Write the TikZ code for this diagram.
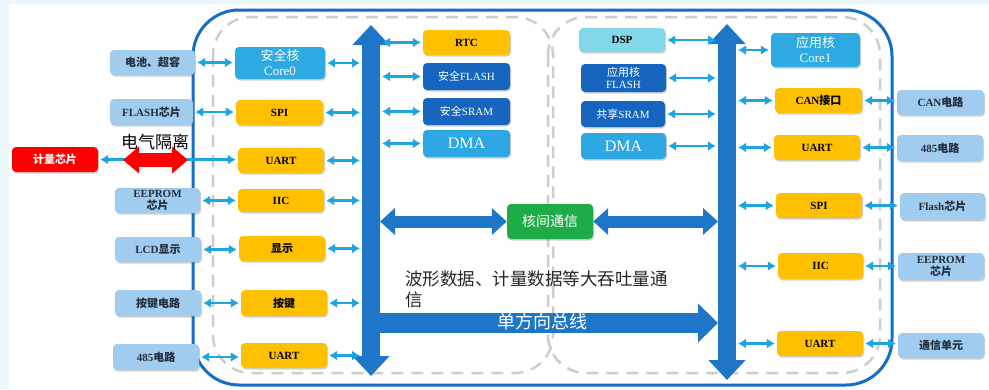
\documentclass[tikz,border=0pt]{standalone}
\usepackage{fontspec}
\setmainfont{Liberation Serif}
\newfontfamily\cjk{Noto Sans CJK SC}
\usetikzlibrary{arrows.meta,shadows}
\newcommand\zh[1]{{\cjk #1}}
\definecolor{bgc}{RGB}{236,246,253}
\definecolor{extc}{RGB}{160,204,240}
\definecolor{exttext}{RGB}{35,45,60}
\definecolor{orgc}{RGB}{255,192,0}
\definecolor{corec}{RGB}{45,170,226}
\definecolor{dkc}{RGB}{22,102,192}
\definecolor{dmac}{RGB}{45,168,228}
\definecolor{dspc}{RGB}{130,216,232}
\definecolor{grnc}{RGB}{30,172,72}
\definecolor{busc}{RGB}{30,118,200}
\definecolor{arrc}{RGB}{30,165,225}
\definecolor{bordc}{RGB}{20,110,200}
\definecolor{dashc}{RGB}{205,205,205}
\newcommand\putbox[7]{\node[#2, minimum width=#5pt-#3pt, minimum height=#6pt-#4pt] (#1) at ({(#3+#5)/2},{(#4+#6)/2}) {#7};}
\begin{document}
\begin{tikzpicture}[x=1pt,y=-1pt,
  boxbase/.style={rounded corners=4pt, inner sep=0pt, align=center,
    drop shadow={shadow xshift=1pt,shadow yshift=-1.5pt,opacity=0.3,fill=black!60}},
  ext/.style={boxbase, fill=extc, text=exttext, font=\bfseries\fontsize{11}{11.5}\selectfont},
  org/.style={boxbase, fill=orgc, text=black, font=\bfseries\fontsize{11}{12}\selectfont},
  core/.style={boxbase, fill=corec, text=white, font=\fontsize{13}{15}\selectfont},
  dk/.style={boxbase, fill=dkc, text=white, font=\fontsize{11}{12.5}\selectfont},
  dma/.style={boxbase, fill=dmac, text=white, font=\fontsize{16}{18}\selectfont},
  dsp/.style={boxbase, fill=dspc, text=black, font=\bfseries\fontsize{11}{12}\selectfont},
  redb/.style={boxbase, fill=red, text=white, font=\bfseries\fontsize{11}{12}\selectfont},
  grn/.style={boxbase, fill=grnc, text=white, font=\fontsize{14}{16}\selectfont},
  sa/.style={draw=arrc, line width=2.2pt, {Latex[length=8pt,width=10pt]}-{Latex[length=8pt,width=10pt]}, shorten <=2pt, shorten >=2pt},
  bus/.style={draw=busc, line width=18pt, {Triangle[length=20pt,width=36pt]}-{Triangle[length=20pt,width=36pt]}},
  hbus/.style={draw=busc, line width=12pt, {Triangle[length=15pt,width=26pt]}-{Triangle[length=15pt,width=26pt]}},
]
\fill[bgc] (0,0) rectangle (989,389);
\fill[white] (9,4) rectangle (989,389);
\useasboundingbox (0,0) rectangle (989,389);

% dashed regions and border
\draw[dashc, line width=2.5pt, dash pattern=on 12pt off 8pt, rounded corners=38pt] (213,17) rectangle (553,373);
\draw[dashc, line width=2.5pt, dash pattern=on 12pt off 8pt, rounded corners=38pt] (548,17) rectangle (880,373);
\draw[bordc, line width=3pt, rounded corners=46pt] (193,10) rectangle (892,385);

% buses
\coordinate (lbT) at (371,25); \coordinate (lbB) at (371,376);
\coordinate (rbT) at (727,24); \coordinate (rbB) at (727,380);
\coordinate (lbL) at (362,0); \coordinate (lbR) at (380,0);
\coordinate (rbL) at (718,0); \coordinate (rbR) at (736,0);
\draw[bus] (lbT) -- (lbB);
\draw[bus] (rbT) -- (rbB);

% left external boxes
\putbox{bat}{ext}{110}{50}{195}{75}{\zh{电池、超容}}
\putbox{flashL}{ext}{110}{99}{193}{125}{FLASH\zh{芯片}}
\putbox{meter}{redb}{12}{147}{98}{172}{\zh{计量芯片}}
\putbox{eepL}{ext}{115}{188}{200}{213}{EEPROM\\\zh{芯片}}
\putbox{lcd}{ext}{115}{237}{201}{262}{LCD\zh{显示}}
\putbox{keyc}{ext}{115}{290}{201}{316}{\zh{按键电路}}
\putbox{rsL}{ext}{113}{344}{199}{370}{485\zh{电路}}

% left inner boxes
\putbox{core0}{core}{235}{47}{325}{79}{\zh{安全核}\\Core0}
\putbox{spiL}{org}{236}{100}{323}{125}{SPI}
\putbox{uartA}{org}{238}{148}{324}{173}{UART}
\putbox{iicL}{org}{238}{189}{324}{212}{IIC}
\putbox{disp}{org}{239}{236}{325}{261}{\zh{显示}}
\putbox{key}{org}{241}{290}{327}{316}{\zh{按键}}
\putbox{uartB}{org}{241}{343}{327}{368}{UART}

% middle left boxes
\putbox{rtc}{org}{423}{30}{510}{55}{RTC}
\putbox{sflash}{dk}{423}{63}{510}{90}{\zh{安全}FLASH}
\putbox{ssram}{dk}{423}{98}{510}{125}{\zh{安全}SRAM}
\putbox{dmaL}{dma}{423}{130}{510}{157}{DMA}

% middle right boxes
\putbox{dsp}{dsp}{579}{28}{665}{52}{DSP}
\putbox{aflash}{dk}{581}{64}{666}{92}{\zh{应用核}\\FLASH}
\putbox{shsram}{dk}{581}{101}{665}{127}{\zh{共享}SRAM}
\putbox{dmaR}{dma}{581}{133}{666}{159}{DMA}

% right inner boxes
\putbox{core1}{core}{771}{33}{860}{67}{\zh{应用核}\\Core1}
\putbox{can}{org}{775}{88}{862}{113}{CAN\zh{接口}}
\putbox{uartC}{org}{774}{135}{860}{160}{UART}
\putbox{spiR}{org}{776}{193}{862}{218}{SPI}
\putbox{iicR}{org}{778}{253}{863}{279}{IIC}
\putbox{uartD}{org}{777}{331}{863}{356}{UART}

% right external boxes
\putbox{canc}{ext}{897}{90}{984}{115}{CAN\zh{电路}}
\putbox{rsR}{ext}{897}{135}{983}{161}{485\zh{电路}}
\putbox{flashR}{ext}{900}{193}{985}{220}{Flash\zh{芯片}}
\putbox{eepR}{ext}{898}{253}{984}{280}{EEPROM\\\zh{芯片}}
\putbox{comm}{ext}{898}{333}{984}{358}{\zh{通信单元}}

% green box
\putbox{ipc}{grn}{507}{204}{593}{239}{\zh{核间通信}}

% connectors: left external to inner
\foreach \a/\b in {bat/core0, flashL/spiL, meter/uartA, eepL/iicL, lcd/disp, keyc/key, rsL/uartB}
  \draw[sa] (\a.east) -- (\a.east -| \b.west);
% left inner to bus
\foreach \a in {core0, spiL, uartA, iicL, disp, key, uartB}
  \draw[sa] (\a.east) -- (\a.east -| lbL);
% bus to middle left
\foreach \a in {rtc, sflash, ssram, dmaL}
  \draw[sa] (\a.west -| lbR) -- (\a.west);
% middle right to right bus
\foreach \a in {dsp, aflash, shsram, dmaR}
  \draw[sa] (\a.east) -- (\a.east -| rbL);
% right bus to right inner
\foreach \a in {core1, can, uartC, spiR, iicR, uartD}
  \draw[sa] (\a.west -| rbR) -- (\a.west);
% right inner to right external
\foreach \a/\b in {can/canc, uartC/rsR, spiR/flashR, iicR/eepR, uartD/comm}
  \draw[sa] (\a.east) -- (\a.east -| \b.west);

% isolation arrow
\coordinate (isoA) at (123,160); \coordinate (isoB) at (188,160);
\draw[red, line width=14pt, {Triangle[length=16pt,width=26pt]}-{Triangle[length=16pt,width=26pt]}] (isoA) -- (isoB);
\node[font=\cjk\fontsize{17}{18}\selectfont, inner sep=0pt] (isotxt) at (155,142) {电气隔离};

% inter-core arrows
\draw[hbus] (ipc.west -| lbR) -- (ipc.west);
\draw[hbus] (ipc.east) -- (ipc.east -| rbL);

% single-direction bus
\coordinate (uniS) at (380,323); \coordinate (uniE) at (718,323);
\draw[busc, line width=20pt, -{Triangle[length=20pt,width=38pt]}] (uniS) -- (uniE);
\node[text=white, font=\cjk\fontsize{18}{20}\selectfont, inner sep=0pt] (unitxt) at (542,322) {单方向总线};

% description text
\node[anchor=north west, inner sep=0pt, align=left, text=black!85,
  font=\cjk\fontsize{17.5}{21}\selectfont] (desc) at (405,271) {波形数据、计量数据等大吞吐量通\\信};
\end{tikzpicture}
\end{document}
